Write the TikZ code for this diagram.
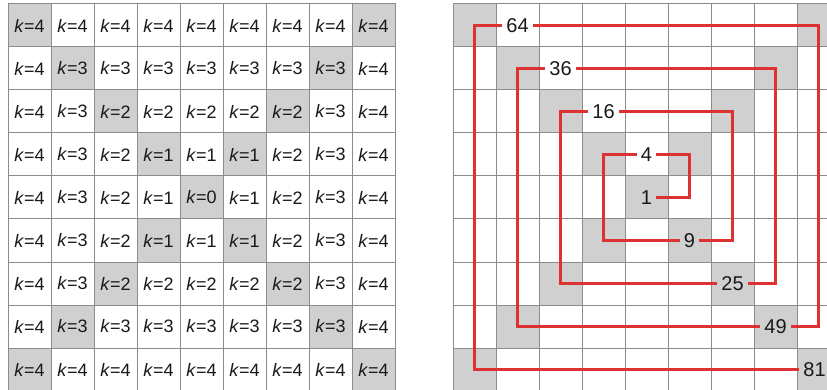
\documentclass[tikz,border=0pt]{standalone}
\usepackage{fontspec}
\setmainfont{Liberation Sans}
\definecolor{cellgray}{RGB}{208,208,208}
\definecolor{gridline}{RGB}{140,140,140}
\definecolor{spiralred}{RGB}{220,50,50}
\definecolor{txt}{RGB}{25,25,25}
\tikzset{
  cellbox/.style={draw=gridline, line width=1pt, minimum size=43pt, inner sep=0pt, outer sep=0pt, anchor=north west, text=txt},
  klabel/.style={font=\fontsize{18}{20}\selectfont},
  numlabel/.style={font=\fontsize{20}{22}\selectfont, text=txt, inner sep=4pt},
  redline/.style={draw=spiralred, line width=2.4pt, line join=miter}
}
\begin{document}
\begin{tikzpicture}[x=1pt,y=-1pt]
\useasboundingbox (0,0) rectangle (827,390);
\clip (0,0) rectangle (827,390);
\fill[white] (0,0) rectangle (827,390);
% left grid
\foreach \i in {0,...,8}{
  \foreach \j in {0,...,8}{
    \pgfmathtruncatemacro\k{max(abs(\i-4),abs(\j-4))}
    \pgfmathtruncatemacro\g{((\i==\j)||(\i+\j==8))?1:0}
    \ifnum\g=1 \def\fc{cellgray}\else\def\fc{white}\fi
    \node[cellbox, klabel, fill=\fc] (L\i\j) at ({8+43*\i},{4+43*\j}) {\textit{k}=\k};
  }
}
% right grid
\foreach \i in {0,...,8}{
  \foreach \j in {0,...,8}{
    \pgfmathtruncatemacro\g{((\i==\j)||(\i+\j==8))?1:0}
    \ifnum\g=1 \def\fc{cellgray}\else\def\fc{white}\fi
    \node[cellbox, fill=\fc] (R\i\j) at ({453+43*\i},{4+43*\j}) {};
  }
}
% numbers
\node[numlabel] (n1)  at (R44.center) {1};
\node[numlabel] (n4)  at (R43.center) {4};
\node[numlabel] (n9)  at (R55.center) {9};
\node[numlabel] (n16) at (R32.center) {16};
\node[numlabel] (n25) at (R66.center) {25};
\node[numlabel] (n36) at (R21.center) {36};
\node[numlabel] (n49) at (R77.center) {49};
\node[numlabel] (n64) at (R10.center) {64};
\node[numlabel, xshift=-4pt] (n81) at (R88.center) {81};
% spiral
\draw[redline] (n1.east) -| (R53.center) -- (n4.east);
\draw[redline] (n4.west) -| (R35.center) -- (n9.west);
\draw[redline] (n9.east) -| (R62.center) -- (n16.east);
\draw[redline] (n16.west) -| (R26.center) -- (n25.west);
\draw[redline] (n25.east) -| (R71.center) -- (n36.east);
\draw[redline] (n36.west) -| (R17.center) -- (n49.west);
\draw[redline] (n49.east) -| (R80.center) -- (n64.east);
\draw[redline] (n64.west) -| (R08.center) -- (n81.west);
\end{tikzpicture}
\end{document}
